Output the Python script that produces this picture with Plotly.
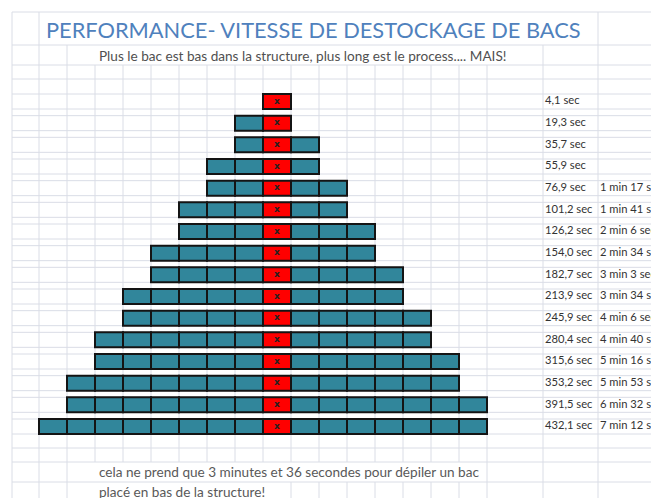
import plotly.graph_objects as go

# ---------------- data ----------------
rows = list(range(16))
left_bins = [0, 1, 1, 2, 2, 3, 3, 4, 4, 5, 5, 6, 6, 7, 7, 8]
right_bins = [0, 0, 1, 1, 2, 2, 3, 3, 4, 4, 5, 5, 6, 6, 7, 7]
time_sec_labels = ["4,1 sec", "19,3 sec", "35,7 sec", "55,9 sec", "76,9 sec", "101,2 sec",
                   "126,2 sec", "154,0 sec", "182,7 sec", "213,9 sec", "245,9 sec", "280,4 sec",
                   "315,6 sec", "353,2 sec", "391,5 sec", "432,1 sec"]
time_min_labels = ["", "", "", "", "1 min 17 sec", "1 min 41 sec", "2 min 6 sec", "2 min 34 sec",
                   "3 min 3 sec", "3 min 34 sec", "4 min 6 sec", "4 min 40 sec", "5 min 16 sec",
                   "5 min 53 sec", "6 min 32 sec", "7 min 12 sec"]

title_text = "PERFORMANCE- VITESSE DE DESTOCKAGE DE BACS"
subtitle_text = "Plus le bac est bas dans la structure, plus long est le process.... MAIS!"
footer1 = "cela ne prend que 3 minutes et 36 secondes pour dépiler un bac"
footer2 = "placé en bas de la structure!"

# ---------------- layout geometry ----------------
W, H = 651, 498
COL_W = 28.0
X0_PX = 277.0          # centre of the red column in pixels
ROW_P = 21.667
Y0_PX = 101.5          # centre of first row in pixels
BAR_H = 15.0 / ROW_P

def px_to_x(p):
    return (p - X0_PX) / COL_W

def px_to_y(p):
    return (p - Y0_PX) / ROW_P

# ---------------- cells ----------------
blue_y, blue_base = [], []
red_y, red_base = [], []
for r, L, R in zip(rows, left_bins, right_bins):
    for j in range(-L, R + 1):
        if j == 0:
            red_y.append(r); red_base.append(j - 0.5)
        else:
            blue_y.append(r); blue_base.append(j - 0.5)

fig = go.Figure()
fig.add_trace(go.Bar(orientation="h", y=blue_y, x=[1] * len(blue_y), base=blue_base,
                     width=BAR_H, marker=dict(color="#31869B", line=dict(color="#141414", width=2)),
                     hoverinfo="skip"))
fig.add_trace(go.Bar(orientation="h", y=red_y, x=[1] * len(red_y), base=red_base,
                     width=BAR_H, marker=dict(color="#FF0000", line=dict(color="#141414", width=2)),
                     hoverinfo="skip"))
fig.add_trace(go.Scatter(x=[0] * len(rows), y=rows, mode="text", text=["<b>x</b>"] * len(rows),
                         textposition="middle center",
                         textfont=dict(family="DejaVu Sans", size=9, color="#222222"),
                         hoverinfo="skip"))
fig.add_trace(go.Scatter(x=[px_to_x(545)] * len(rows), y=rows, mode="text", text=time_sec_labels,
                         textposition="middle right",
                         textfont=dict(family="Lato", size=11.2, color="#333333"),
                         hoverinfo="skip"))
fig.add_trace(go.Scatter(x=[px_to_x(600)] * len(rows), y=rows, mode="text", text=time_min_labels,
                         textposition="middle right",
                         textfont=dict(family="Lato", size=11.2, color="#333333"),
                         hoverinfo="skip"))

# ---------------- spreadsheet grid ----------------
GRID = "#DADDE6"
shapes = []
def hline(py, x1=12, x2=W):
    shapes.append(dict(type="line", xref="paper", yref="paper", x0=x1 / W, x1=x2 / W,
                       y0=1 - py / H, y1=1 - py / H, line=dict(color=GRID, width=1), layer="below"))
def vline(px, y1, y2):
    shapes.append(dict(type="line", xref="paper", yref="paper", x0=px / W, x1=px / W,
                       y0=1 - y1 / H, y1=1 - y2 / H, line=dict(color=GRID, width=1), layer="below"))

for py in [12, 45, 65, 79]:
    hline(py)
for r in rows:
    c = Y0_PX + ROW_P * r
    hline(c - 7.5)
    hline(c + 7.5)
for py in [448, 462, 482]:
    hline(py)

vline(12, 12, H)
vline(39, 12, H)
vline(67, 45, H)
for k in range(2, 16):
    px = 39 + 28 * k
    vline(px, 65, 462)
    if px >= 291:
        vline(px, 482, H)
vline(487, 65, H)
vline(543, 45, H)
vline(598, 12, H)

annotations = [
    dict(text=title_text, xref="paper", yref="paper", x=44 / W, y=1 - 30 / H,
         xanchor="left", yanchor="middle", showarrow=False,
         font=dict(family="Lato", size=21.8, color="#4F81BD")),
    dict(text=subtitle_text, xref="paper", yref="paper", x=97 / W, y=1 - 56 / H,
         xanchor="left", yanchor="middle", showarrow=False,
         font=dict(family="Lato", size=13.6, color="#505050")),
    dict(text=footer1, xref="paper", yref="paper", x=97 / W, y=1 - 472 / H,
         xanchor="left", yanchor="middle", showarrow=False,
         font=dict(family="Lato", size=13.6, color="#595959")),
    dict(text=footer2, xref="paper", yref="paper", x=97 / W, y=1 - 492 / H,
         xanchor="left", yanchor="middle", showarrow=False,
         font=dict(family="Lato", size=13.6, color="#595959")),
]

fig.update_layout(
    width=W, height=H, margin=dict(l=0, r=0, t=0, b=0),
    paper_bgcolor="white", plot_bgcolor="white",
    showlegend=False, barmode="overlay",
    xaxis=dict(range=[px_to_x(0), px_to_x(W)], visible=False, fixedrange=True),
    yaxis=dict(range=[px_to_y(H), px_to_y(0)], visible=False, fixedrange=True),
    shapes=shapes, annotations=annotations,
)

fig.write_html("out.html", config={"displayModeBar": False},
               post_script="document.body.style.margin='0';document.body.style.overflow='hidden';")
